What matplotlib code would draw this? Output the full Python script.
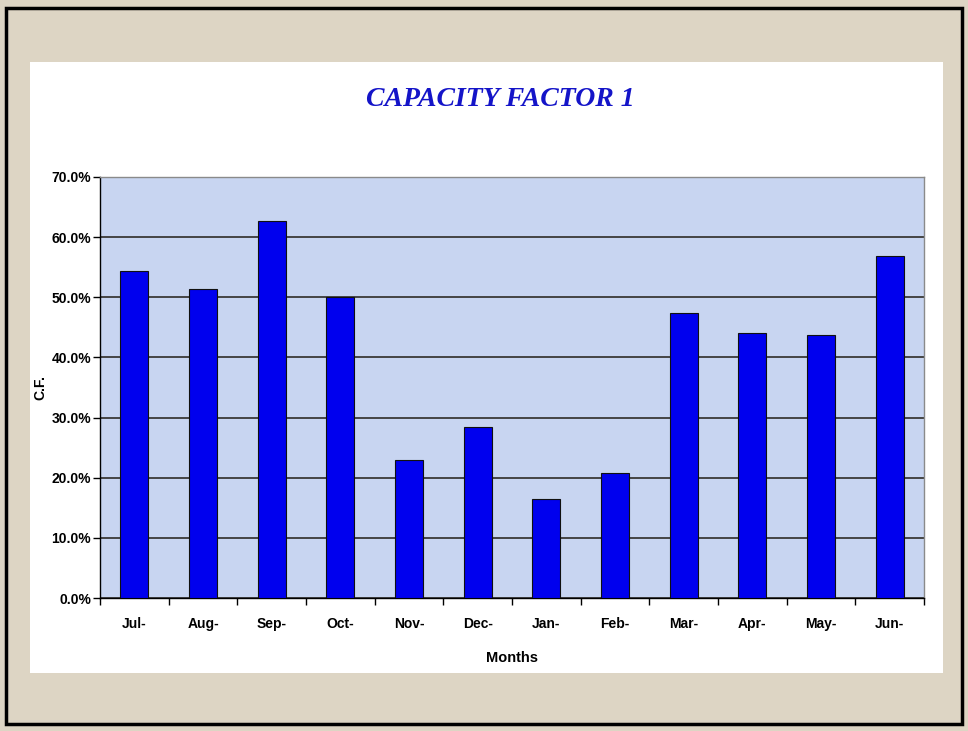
import matplotlib
matplotlib.use("Agg")
import matplotlib.pyplot as plt
from matplotlib.patches import Rectangle
from matplotlib.ticker import FuncFormatter, MultipleLocator

months = ["Jul-", "Aug-", "Sep-", "Oct-", "Nov-", "Dec-", "Jan-", "Feb-", "Mar-", "Apr-", "May-", "Jun-"]
capacity_factor = [54.4, 51.4, 62.7, 50.0, 23.0, 28.5, 16.5, 20.8, 47.4, 44.1, 43.8, 56.8]

W, H = 968, 731
fig = plt.figure(figsize=(W / 100, H / 100), dpi=100)
fig.patch.set_facecolor("#ddd5c4")

def px_rect(x0, y0, x1, y1, **kw):
    return Rectangle((x0 / W, 1 - y1 / H), (x1 - x0) / W, (y1 - y0) / H,
                     transform=fig.transFigure, **kw)

# white chart panel and outer black frame (behind the axes)
fig.patches.append(px_rect(30, 62, 943, 673, facecolor="white", edgecolor="none", zorder=-2))
fig.patches.append(px_rect(6, 8, 962, 724, facecolor="none", edgecolor="black", linewidth=2.5, zorder=-1))

narrow = ["Liberation Sans Narrow", "Liberation Sans", "DejaVu Sans"]

ax = fig.add_axes([100 / W, 1 - 598 / H, 824 / W, 421 / H], zorder=2)
ax.set_facecolor("#c8d5f1")
x = list(range(len(months)))
ax.bar(x, capacity_factor, width=0.41, color="#0000ee", edgecolor="#101010", linewidth=0.8, zorder=3)

ax.set_xlim(-0.5, len(months) - 0.5)
ax.set_ylim(0, 70)
ax.yaxis.set_major_locator(MultipleLocator(10))
ax.yaxis.set_major_formatter(FuncFormatter(lambda v, p: f"{v:.1f}%"))
ax.grid(axis="y", color="#454545", linewidth=1.4, zorder=1)
ax.set_axisbelow(True)

# ticks at category boundaries
ax.set_xticks([i - 0.5 for i in range(len(months) + 1)], minor=False)
ax.set_xticklabels([])
ax.set_xticks(x, minor=True)
ax.set_xticklabels(months, minor=True)
ax.tick_params(axis="x", which="major", direction="out", length=5, width=1, color="black")
ax.tick_params(axis="x", which="minor", length=0, pad=14)
ax.tick_params(axis="y", direction="out", length=5, width=1, pad=1.5)
for lab in ax.get_xticklabels(minor=True) + ax.get_yticklabels():
    lab.set_fontfamily(narrow)
    lab.set_fontweight("bold")
    lab.set_fontsize(10)

ax.spines["left"].set_color("black")
ax.spines["bottom"].set_color("black")
ax.spines["top"].set_color("#8a8a8a")
ax.spines["right"].set_color("#8a8a8a")
for s in ax.spines.values():
    s.set_linewidth(1.0)

ax.set_xlabel("Months", family=narrow, fontweight="bold", fontsize=10.5, labelpad=14)
ax.set_ylabel("C.F.", family=narrow, fontweight="bold", fontsize=10, labelpad=3)

fig.text(500 / W, 1 - 100 / H, "CAPACITY FACTOR 1", ha="center", va="center",
         color="#1414c8", fontsize=20, fontstyle="italic", fontweight="bold",
         family=["Liberation Serif", "DejaVu Serif"])

fig.savefig("out.png", dpi=100, facecolor=fig.get_facecolor())
